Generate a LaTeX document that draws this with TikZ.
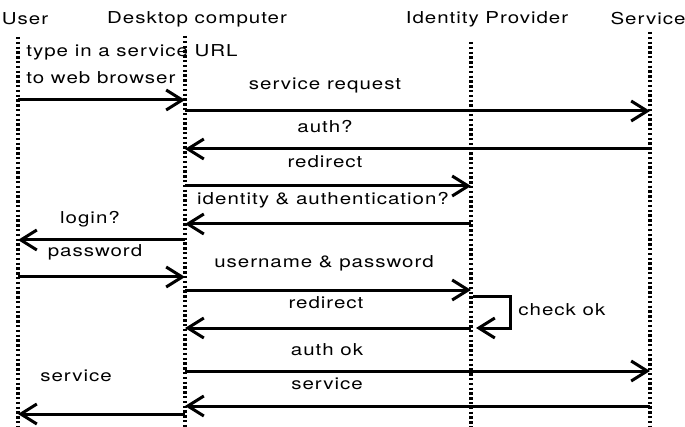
\documentclass[tikz,border=0pt]{standalone}
\usepackage{fontspec}
\setmainfont{TeX Gyre Heros}[FakeStretch=1.25, LetterSpace=6]
\usetikzlibrary{arrows.meta}
\begin{document}
\begin{tikzpicture}[x=0.5pt,y=-0.5pt,
  font=\fontsize{8.2}{9.8}\selectfont,
  life/.style={line width=1.6pt, dash pattern=on 1.2pt off 1.2pt},
  msg/.style={line width=1.5pt, -{Straight Barb[length=8pt,width=10pt]}},
  lbl/.style={inner sep=0pt},
  head/.style={inner sep=0pt}]
\useasboundingbox (0,0) rectangle (685,427);

% participants
\node[head] (hU) at (25,19)  {User};
\node[head] (hD) at (197,19) {Desktop computer};
\node[head] (hI) at (487,19) {Identity Provider};
\node[head] (hS) at (648,19) {Service};

% lifelines
\coordinate (Ut) at (18,37);  \coordinate (Ub) at (18,427);
\coordinate (Dt) at (185,36); \coordinate (Db) at (185,427);
\coordinate (It) at (471,42); \coordinate (Ib) at (471,427);
\coordinate (St) at (650,32); \coordinate (Sb) at (650,427);
\draw[life] (Ut) -- (Ub);
\draw[life] (Dt) -- (Db);
\draw[life] (It) -- (Ib);
\draw[life] (St) -- (Sb);

% message end points
\coordinate (a1) at (18,100);  \coordinate (b1) at (185,100);
\coordinate (a2) at (185,111); \coordinate (b2) at (650,111);
\coordinate (a3) at (650,149); \coordinate (b3) at (185,149);
\coordinate (a4) at (185,186); \coordinate (b4) at (471,186);
\coordinate (a5) at (471,224); \coordinate (b5) at (185,224);
\coordinate (a6) at (185,240); \coordinate (b6) at (18,240);
\coordinate (a7) at (18,277);  \coordinate (b7) at (185,277);
\coordinate (a8) at (185,290); \coordinate (b8) at (471,290);
\coordinate (a9) at (473,296); \coordinate (k9) at (510,312); \coordinate (b9) at (476,328);
\coordinate (a10) at (471,328); \coordinate (b10) at (185,328);
\coordinate (a11) at (185,371); \coordinate (b11) at (650,371);
\coordinate (a12) at (650,406); \coordinate (b12) at (185,406);
\coordinate (a13) at (185,414); \coordinate (b13) at (18,414);

% messages
\draw[msg] (a1) -- (b1);
\draw[msg] (a2) -- (b2);
\draw[msg] (a3) -- (b3);
\draw[msg] (a4) -- (b4);
\draw[msg] (a5) -- (b5);
\draw[msg] (a6) -- (b6);
\draw[msg] (a7) -- (b7);
\draw[msg] (a8) -- (b8);
\draw[msg] (a9) -| (k9) |- (b9);
\draw[msg] (a10) -- (b10);
\draw[msg] (a11) -- (b11);
\draw[msg] (a12) -- (b12);
\draw[msg] (a13) -- (b13);

% labels
\node[lbl, anchor=west] (l1a) at (26,52) {type in a service URL};
\node[lbl, anchor=west] (l1b) at (26,78) {to web browser};
\node[lbl] (l2)  at (325,85)  {service request};
\node[lbl] (l3)  at (325,127) {auth?};
\node[lbl] (l4)  at (325,162) {redirect};
\node[lbl] (l5)  at (323,200) {identity \& authentication?};
\node[lbl] (l6)  at (90,219)  {login?};
\node[lbl] (l7)  at (95,252)  {password};
\node[lbl] (l8)  at (324,263) {username \& password};
\node[lbl, anchor=west] (l9) at (518,310) {check ok};
\node[lbl] (l10) at (326,303) {redirect};
\node[lbl] (l11) at (327,350) {auth ok};
\node[lbl] (l12) at (327,384) {service};
\node[lbl] (l13) at (76,376)  {service};
\end{tikzpicture}
\end{document}
